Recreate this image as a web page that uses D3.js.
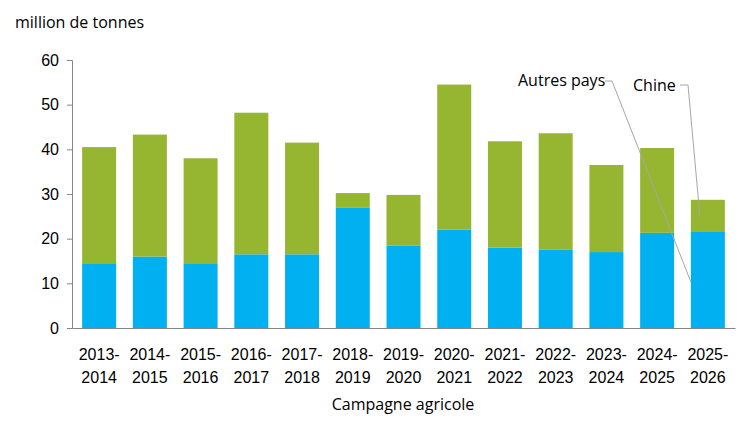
<!DOCTYPE html>
<html><head><meta charset="utf-8">
<script src="https://cdn.jsdelivr.net/npm/d3@7"></script>
<style>body{margin:0;background:#fff}svg{font-family:"Open Sans",sans-serif}</style>
</head><body><div id="chart"></div>
<script>
const seasons = ["2013-2014","2014-2015","2015-2016","2016-2017","2017-2018","2018-2019","2019-2020","2020-2021","2021-2022","2022-2023","2023-2024","2024-2025","2025-2026"];
const autresPays = [14.5,16,14.5,16.5,16.5,27,18.5,22,18,17.5,17,21.3,21.5];
const chine = [26,27.3,23.5,31.7,25,3.2,11.3,32.5,23.8,26.1,19.5,19,7.2];
const yTicks = [0,10,20,30,40,50,60];

const width = 750, height = 422;
const svg = d3.select("#chart").append("svg").attr("width", width).attr("height", height);
const x = d3.scaleBand().domain(seasons).range([72, 735]).paddingInner(0.33).paddingOuter(0.2);
const y = d3.scaleLinear().domain([0, 60]).range([328, 60]);

const g = svg.append("g");
seasons.forEach((s, i) => {
  g.append("rect").attr("x", x(s)).attr("width", x.bandwidth())
    .attr("y", y(autresPays[i])).attr("height", y(0) - y(autresPays[i])).attr("fill", "#00b0f0");
  g.append("rect").attr("x", x(s)).attr("width", x.bandwidth())
    .attr("y", y(autresPays[i] + chine[i])).attr("height", y(autresPays[i]) - y(autresPays[i] + chine[i])).attr("fill", "#96b531");
});

const ya = svg.append("g").attr("transform", "translate(72,0)")
  .call(d3.axisLeft(y).tickValues(yTicks).tickSize(5).tickPadding(8));
ya.selectAll("text").attr("font-size", 16).attr("fill", "#000");
ya.selectAll("line,path").attr("stroke", "#868686");

const xa = svg.append("g").attr("transform", "translate(0,328)")
  .call(d3.axisBottom(x).tickSize(0).tickSizeOuter(0));
xa.select("path").attr("stroke", "#868686");
xa.selectAll(".tick text").each(function(d) {
  const t = d3.select(this).text(null).attr("font-size", 16).attr("fill", "#000")
    .attr("y", 0).attr("dy", null);
  const parts = d.split("-");
  t.append("tspan").attr("x", 0).attr("y", 32).text(parts[0] + "-");
  t.append("tspan").attr("x", 0).attr("y", 55).text(parts[1]);
});

svg.append("text").attr("x", 15).attr("y", 28).attr("font-size", 16).text("million de tonnes");
svg.append("text").attr("x", 403).attr("y", 410).attr("text-anchor", "middle").attr("font-size", 16).text("Campagne agricole");

// annotations
const last = seasons[seasons.length - 1];
const cx = x(last) + x.bandwidth() / 2;
const li = seasons.length - 1;
svg.append("text").attr("x", 518).attr("y", 86).attr("font-size", 16).text("Autres pays");
svg.append("text").attr("x", 633).attr("y", 91).attr("font-size", 16).text("Chine");
svg.append("path").attr("fill", "none").attr("stroke", "#a6a6a6")
  .attr("d", `M605,81 L612,81 L${cx - 17},${y(autresPays[li] / 2) + 2}`);
svg.append("path").attr("fill", "none").attr("stroke", "#a6a6a6")
  .attr("d", `M680,85 L688,85 L${cx - 8},${y(autresPays[li] + chine[li] / 2)}`);
</script></body></html>
